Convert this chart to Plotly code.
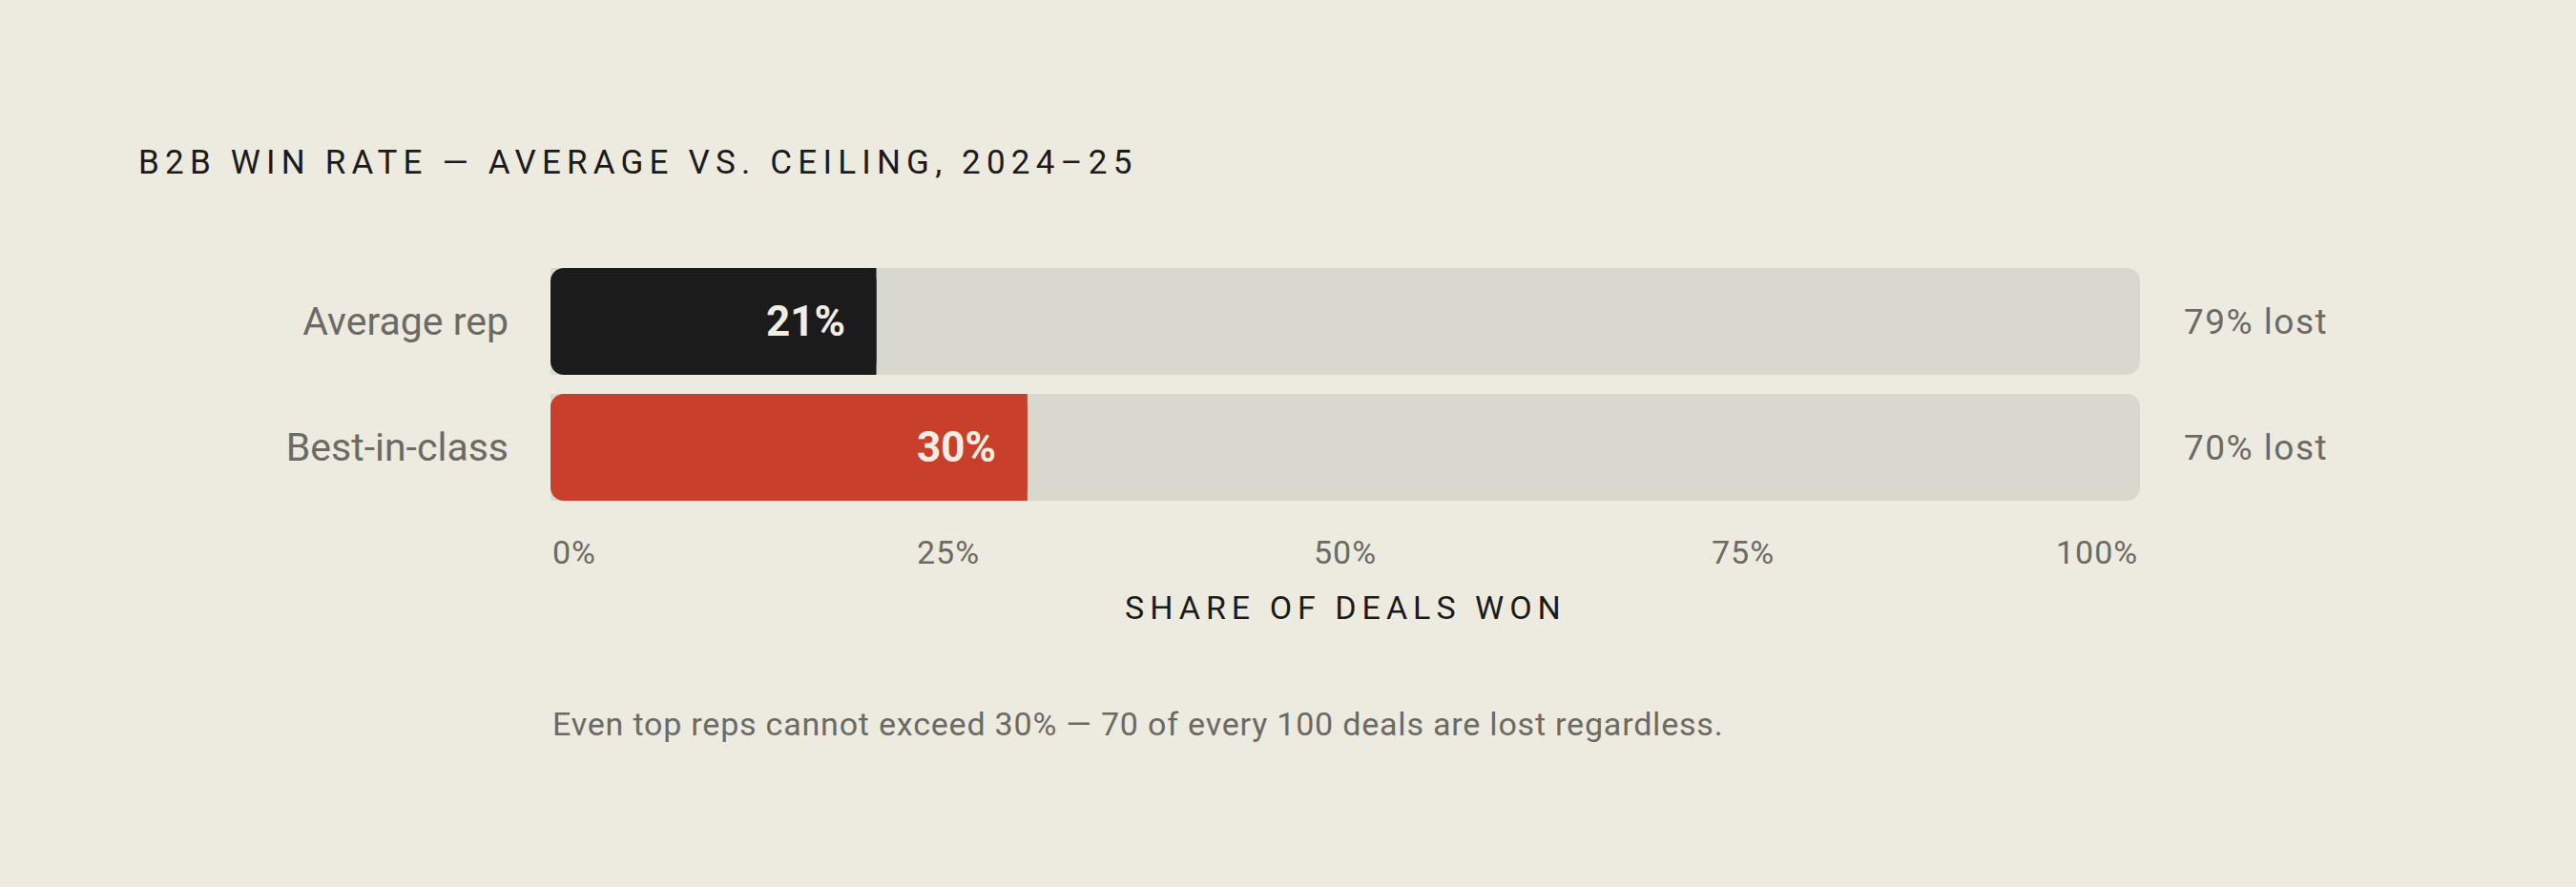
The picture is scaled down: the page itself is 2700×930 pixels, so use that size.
import plotly.graph_objects as go

# data
groups = ["Average rep", "Best-in-class"]
win_rate = [20.5, 30]          # bar lengths as drawn
win_label = ["21%", "30%"]
lost_label = ["79% lost", "70% lost"]
scale_max = 100
tick_vals = [0, 25, 50, 75, 100]
tick_text = ["0%", "25%", "50%", "75%", "100%"]

title = "B2B WIN RATE — AVERAGE VS. CEILING, 2024–25"
axis_title = "SHARE OF DEALS WON"
note = "Even top reps cannot exceed 30% — 70 of every 100 deals are lost regardless."

BG = "#edeadf"
TRACK = "#d9d8ce"
FILLS = ["#1b1b1b", "#c8402b"]
INK = "#1b1b1b"
MUTED = "#6b6a65"
CREAM = "#f1ede2"
FONT = "Roboto"


def spaced(s, px):
    return f'<span style="letter-spacing:{px}px">{s}</span>'


fig = go.Figure()

# full-width track, rounded at the right end
fig.add_trace(go.Bar(
    y=groups, x=[scale_max] * len(groups), orientation="h",
    marker=dict(color=TRACK, cornerradius=14, line_width=0),
    hoverinfo="skip", showlegend=False,
))
# won share, drawn from its end back to zero so the left end is rounded
fig.add_trace(go.Bar(
    y=groups, x=[-w for w in win_rate], base=win_rate, orientation="h",
    marker=dict(color=FILLS, cornerradius=14, line_width=0),
    hoverinfo="skip", showlegend=False,
))
# keep the right end of the won share square
fig.add_trace(go.Bar(
    y=groups, x=[w / 2 for w in win_rate], base=[w / 2 for w in win_rate],
    orientation="h",
    marker=dict(color=FILLS, cornerradius=0, line_width=0),
    hoverinfo="skip", showlegend=False,
))

ann = []
for g, w, wl, ll in zip(groups, win_rate, win_label, lost_label):
    ann.append(dict(x=w, y=g, xref="x", yref="y", text=f"<b>{wl}</b>",
                    xanchor="right", yanchor="middle", xshift=-31, showarrow=False,
                    font=dict(family=FONT, size=44, color=CREAM)))
    ann.append(dict(x=scale_max, y=g, xref="x", yref="y", text=spaced(ll, 1.5),
                    xanchor="left", yanchor="middle", xshift=44, showarrow=False,
                    font=dict(family=FONT, size=37, color=MUTED)))

for i, (v, t) in enumerate(zip(tick_vals, tick_text)):
    anchor = "left" if i == 0 else ("right" if i == len(tick_vals) - 1 else "center")
    ann.append(dict(x=v, y=0, xref="x", yref="paper", text=spaced(t, 1),
                    xanchor=anchor, yanchor="middle", yshift=-44, showarrow=False,
                    font=dict(family=FONT, size=34, color=MUTED)))

ann.append(dict(x=0.5, y=0, xref="paper", yref="paper", text=spaced(axis_title, 6),
                xanchor="center", yanchor="middle", yshift=-102, showarrow=False,
                font=dict(family=FONT, size=34, color=INK)))
ann.append(dict(x=0, y=0, xref="paper", yref="paper", text=spaced(note, 0.8),
                xanchor="left", yanchor="middle", yshift=-224, showarrow=False,
                font=dict(family=FONT, size=34, color=MUTED)))

fig.update_layout(
    width=2700, height=930,
    paper_bgcolor=BG, plot_bgcolor=BG,
    margin=dict(l=577, r=457, t=271, b=395),
    barmode="overlay", bargap=0.1515,
    title=dict(text=spaced(title, 6.2), x=145 / 2700, xanchor="left",
               xref="container", yref="container", y=1 - 170 / 930, yanchor="middle",
               font=dict(family=FONT, size=35, color=INK)),
    xaxis=dict(range=[0, scale_max], showgrid=False, zeroline=False,
               showticklabels=False, fixedrange=True),
    yaxis=dict(autorange="reversed", showgrid=False, zeroline=False, fixedrange=True,
               ticklabelstandoff=43, tickfont=dict(family=FONT, size=41, color=MUTED)),
    annotations=ann,
    font=dict(family=FONT),
)

fig.write_html("out.html", config={"displayModeBar": False},
               post_script="document.body.style.margin='0';")
